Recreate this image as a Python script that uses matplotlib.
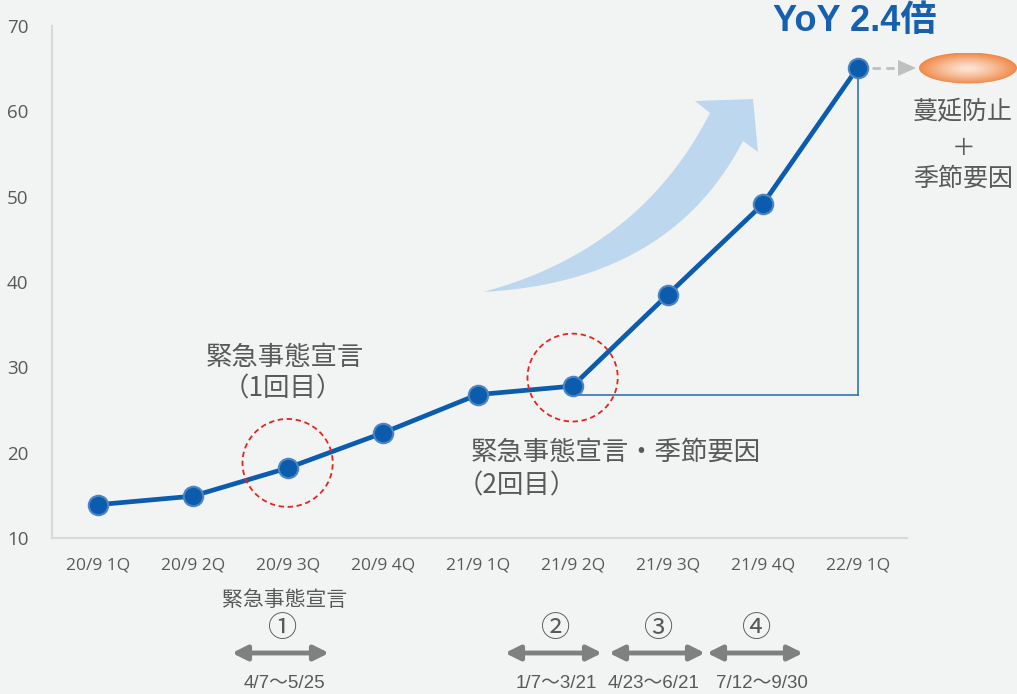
import numpy as np
import matplotlib
matplotlib.use("Agg")
import matplotlib.pyplot as plt
from matplotlib.patches import Ellipse, Polygon

plt.rcParams['font.family'] = ['Noto Sans CJK JP', 'DejaVu Sans']

# data
quarters = ["20/9 1Q", "20/9 2Q", "20/9 3Q", "20/9 4Q", "21/9 1Q",
            "21/9 2Q", "21/9 3Q", "21/9 4Q", "22/9 1Q"]
values = [13.9, 14.9, 18.2, 22.3, 26.8, 27.8, 38.5, 49.1, 65.1]
yticks = [10, 20, 30, 40, 50, 60, 70]

emergency_label = "緊急事態宣言"
periods = ["①", "②", "③", "④"]
period_dates = ["4/7～5/25", "1/7～3/21", "4/23～6/21", "7/12～9/30"]

BG = "#f2f4f4"
BLUE = "#0b5cad"
GRAY = "#595959"

fig = plt.figure(figsize=(10.17, 6.94), dpi=100, facecolor=BG)
ax = fig.add_axes([52 / 1017, 1 - 538 / 694, (907 - 52) / 1017, (538 - 26) / 694])
ax.set_facecolor("none")

x = np.arange(len(quarters))
ax.plot(x, values, color=BLUE, lw=3.4, zorder=3, solid_capstyle="round")
ax.plot(x, values, "o", ms=14, mfc=BLUE, mec="#4d84c4", mew=1.5, zorder=4)

# guide lines from 2Q level up to latest point
ax.plot([x[5], x[8]], [values[4], values[4]], color="#2e75b6", lw=1.2, zorder=2)
ax.plot([x[8], x[8]], [values[4], values[8]], color="#2e75b6", lw=1.2, zorder=2)

ax.set_xlim(-0.48, 8.52)
ax.set_ylim(10, 70)
ax.set_xticks(x)
ax.set_xticklabels(quarters, fontfamily="Open Sans", fontsize=12.5, color=GRAY)
ax.set_yticks(yticks)
ax.set_yticklabels([str(v) for v in yticks], fontfamily="Open Sans", fontsize=13.5, color=GRAY)
ax.tick_params(axis="x", length=0, pad=14)
ax.tick_params(axis="y", length=0, pad=17)
for s in ["top", "right"]:
    ax.spines[s].set_visible(False)
for s in ["left", "bottom"]:
    ax.spines[s].set_color("#d9d9d9")
    ax.spines[s].set_linewidth(1.5)

# dashed red circles around emergency points
for i, dy in [(2, 0.6), (5, 1.0)]:
    ax.add_patch(Ellipse((x[i], values[i] + dy), 0.95, 10.3, fill=False,
                         ec="#e8231f", lw=1.3, ls=(0, (3, 2)), zorder=5))

ax.text(1.97, 31.2, "緊急事態宣言", ha="center", va="center", fontsize=19, color=GRAY)
ax.text(1.95, 27.5, "（1回目）", ha="center", va="center", fontsize=19, color=GRAY)
ax.text(3.93, 20.0, "緊急事態宣言・季節要因", ha="left", va="center",
        fontsize=19, color=GRAY)
ax.text(3.78, 16.1, "（2回目）", ha="left", va="center", fontsize=19, color=GRAY)

# overlay in pixel coordinates for decorations
ov = fig.add_axes([0, 0, 1, 1], zorder=10)
ov.axis("off")
ov.patch.set_alpha(0)

# big curved arrow
def bez(p0, c, p2, n=40):
    t = np.linspace(0, 1, n)[:, None]
    return (1 - t) ** 2 * np.array(p0) + 2 * (1 - t) * t * np.array(c) + t ** 2 * np.array(p2)

tail = (483, 292)
upper = bez(tail, (640, 250), (710, 113))
lower = bez(tail, (670, 282), (743, 141))
head = np.array([(695, 101), (753, 99), (758, 152)])
pts = np.vstack([upper, head, lower[::-1]])
ov.add_patch(Polygon(pts, closed=True, fc="#bdd7ee", ec="none", zorder=1))

ov.text(855, 21, "YoY 2.4倍", ha="center", va="center", fontsize=26, fontweight="bold",
        color="#1660b0", family=["Liberation Sans", "Noto Sans CJK JP"])

# dashed gray pointer to ellipse
ov.plot([872, 900], [68, 68], color="#bfbfbf", lw=2, ls=(0, (3, 2)))
ov.add_patch(Polygon([(898, 60), (916, 68), (898, 76)], closed=True, fc="#bfbfbf", ec="none"))

# gradient ellipse
cx, cy, w, h = 968, 68, 98, 31
gx, gy = np.meshgrid(np.linspace(-1, 1, 200), np.linspace(-1, 1, 80))
r = np.clip(np.sqrt(gx ** 2 + gy ** 2), 0, 1)
c0 = np.array([253, 228, 212]) / 255
c1 = np.array([240, 136, 72]) / 255
img = c0 + (c1 - c0) * (r[..., None] ** 1.3)
el = Ellipse((cx, cy), w, h, transform=ov.transData)
im = ov.imshow(img, extent=[cx - w / 2, cx + w / 2, cy + h / 2, cy - h / 2], zorder=2,
               interpolation="bilinear")
im.set_clip_path(el)
ov.set_xlim(0, 1017)
ov.set_ylim(694, 0)
ov.set_aspect("auto")

# side note
ov.text(913, 112, "蔓延防止", ha="left", va="center", fontsize=18, color=GRAY)
ov.text(964, 148, "＋", ha="center", va="center", fontsize=17, color=GRAY)
ov.text(913, 179, "季節要因", ha="left", va="center", fontsize=18, color=GRAY)

# emergency periods below the axis
ov.text(285, 600, emergency_label, ha="center", va="center", fontsize=15, color=GRAY)
spans = [(232, 329), (505, 602), (609, 705), (707, 803)]
date_x = [284, 556, 654, 762]
for (x0, x1), num, d, dx in zip(spans, periods, period_dates, date_x):
    xc = (x0 + x1) / 2
    ov.text(xc + 2, 629, num, ha="center", va="center", fontsize=21, color=GRAY)
    ov.annotate("", xy=(x1, 653), xytext=(x0, 653),
                arrowprops=dict(arrowstyle="<|-|>", color="#808080", lw=3.5,
                                mutation_scale=22, shrinkA=0, shrinkB=0))
    ov.text(dx, 684, d, ha="center", va="center", fontsize=13.5, color=GRAY,
            family=["Liberation Sans", "Noto Sans CJK JP"])

fig.savefig("out.png", dpi=100, facecolor=BG)
